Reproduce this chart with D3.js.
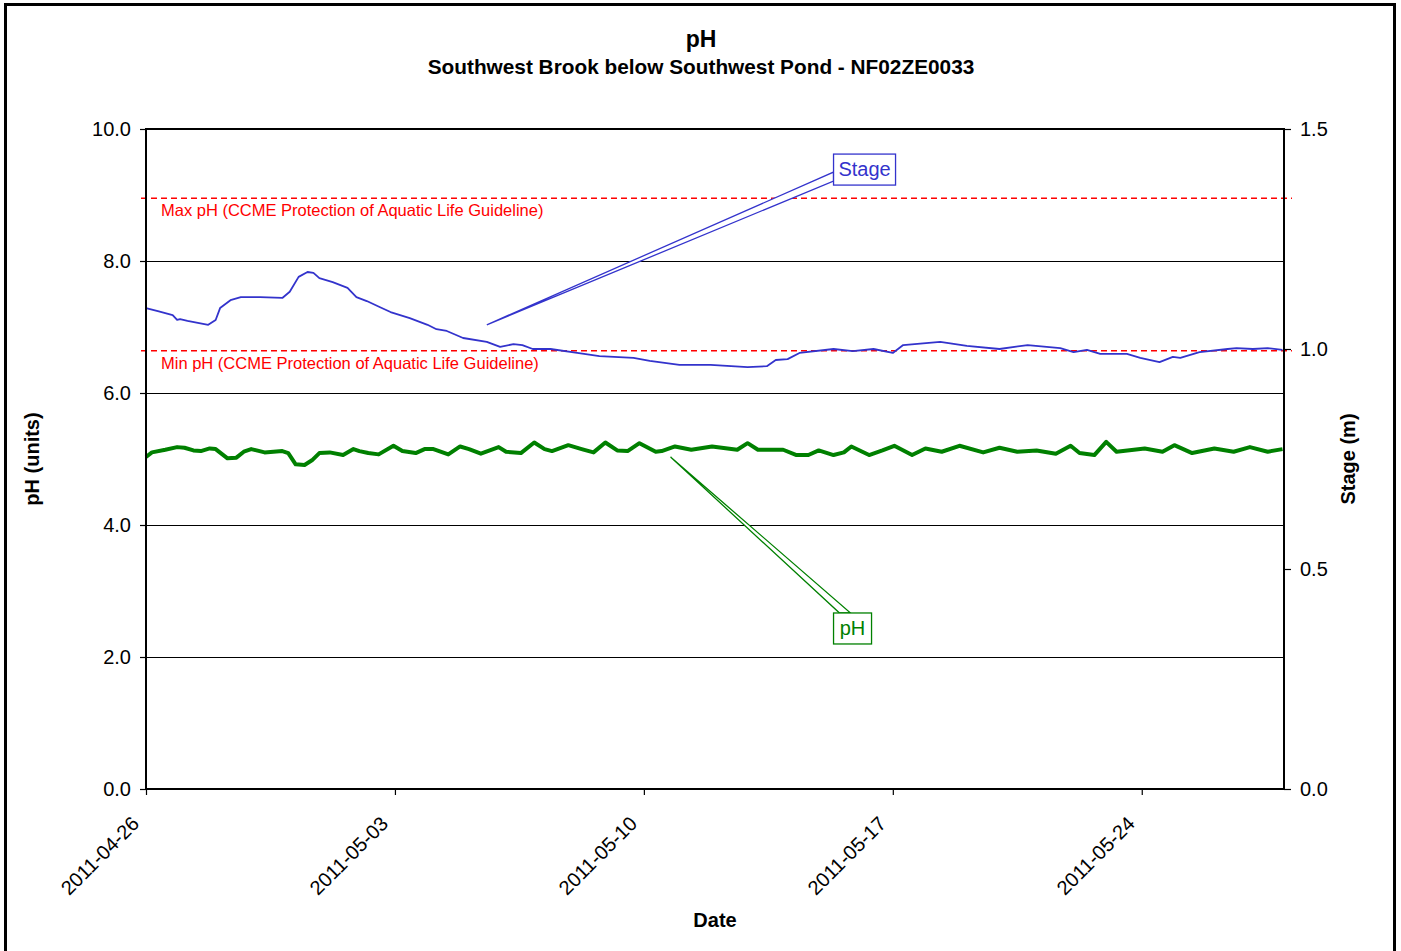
<!DOCTYPE html>
<html>
<head>
<meta charset="utf-8">
<script src="https://cdn.jsdelivr.net/npm/d3@7"></script>
<style>
  body { margin: 0; background: #fff; }
  text { font-family: Arial, "Liberation Sans", sans-serif; }
</style>
</head>
<body>
<div id="chart"></div>
<script>
// data
const stageDates = ["2011-04-26 00:00","2011-04-26 08:00","2011-04-26 18:00","2011-04-26 21:00","2011-04-26 23:00",
  "2011-04-27 04:00","2011-04-27 18:00","2011-04-27 23:00","2011-04-28 02:00","2011-04-28 09:00","2011-04-28 16:00",
  "2011-04-29 05:00","2011-04-29 20:00","2011-04-30 01:00","2011-04-30 07:00","2011-04-30 13:00","2011-04-30 17:00",
  "2011-04-30 21:00","2011-05-01 06:00","2011-05-01 16:00","2011-05-01 22:00","2011-05-02 05:00","2011-05-02 14:00",
  "2011-05-02 21:00","2011-05-03 10:00","2011-05-03 22:00","2011-05-04 04:00","2011-05-04 11:00","2011-05-04 22:00",
  "2011-05-05 14:00","2011-05-05 23:00","2011-05-06 08:00","2011-05-06 14:00","2011-05-06 21:00","2011-05-07 09:00",
  "2011-05-08 03:00","2011-05-08 18:00","2011-05-09 17:00","2011-05-10 04:00","2011-05-11 00:00","2011-05-11 21:00",
  "2011-05-12 22:00","2011-05-13 11:00","2011-05-13 17:00","2011-05-14 01:00","2011-05-14 09:00","2011-05-15 08:00",
  "2011-05-15 21:00","2011-05-16 11:00","2011-05-17 00:00","2011-05-17 07:00","2011-05-18 08:00","2011-05-19 02:00",
  "2011-05-20 00:00","2011-05-20 19:00","2011-05-21 17:00","2011-05-22 02:00","2011-05-22 11:00","2011-05-22 20:00",
  "2011-05-23 14:00","2011-05-23 23:00","2011-05-24 12:00","2011-05-24 21:00","2011-05-25 02:00","2011-05-25 15:00",
  "2011-05-26 10:00","2011-05-26 16:00","2011-05-27 03:00","2011-05-27 13:00","2011-05-27 23:00"];
const stageValues = [1.093,1.086,1.077,1.066,1.068,
  1.064,1.055,1.066,1.093,1.111,1.118,
  1.118,1.116,1.130,1.164,1.175,1.173,
  1.161,1.152,1.139,1.118,1.109,1.095,
  1.084,1.070,1.055,1.045,1.041,1.025,
  1.016,1.005,1.011,1.009,1.000,1.000,
  0.991,0.984,0.980,0.973,0.964,0.964,
  0.959,0.961,0.975,0.977,0.991,1.000,
  0.995,1.000,0.991,1.009,1.016,1.007,
  1.000,1.009,1.002,0.993,0.998,0.989,
  0.989,0.980,0.970,0.982,0.980,0.993,
  1.000,1.002,1.000,1.002,0.998];

const phDates = ["2011-04-26 00:00","2011-04-26 04:00","2011-04-26 13:00","2011-04-26 21:00","2011-04-27 02:00",
  "2011-04-27 08:00","2011-04-27 13:00","2011-04-27 19:00","2011-04-27 23:00","2011-04-28 07:00","2011-04-28 13:00",
  "2011-04-28 18:00","2011-04-28 23:00","2011-04-29 08:00","2011-04-29 20:00","2011-04-30 00:00","2011-04-30 05:00",
  "2011-04-30 11:00","2011-04-30 16:00","2011-04-30 21:00","2011-05-01 04:00","2011-05-01 13:00","2011-05-01 20:00",
  "2011-05-02 00:00","2011-05-02 06:00","2011-05-02 13:00","2011-05-02 23:00","2011-05-03 05:00","2011-05-03 14:00",
  "2011-05-03 20:00","2011-05-04 02:00","2011-05-04 12:00","2011-05-04 20:00","2011-05-05 02:00","2011-05-05 10:00",
  "2011-05-05 22:00","2011-05-06 03:00","2011-05-06 13:00","2011-05-06 22:00","2011-05-07 05:00","2011-05-07 10:00",
  "2011-05-07 21:00","2011-05-08 06:00","2011-05-08 14:00","2011-05-08 22:00","2011-05-09 06:00","2011-05-09 13:00",
  "2011-05-09 21:00","2011-05-10 08:00","2011-05-10 12:00","2011-05-10 21:00","2011-05-11 08:00","2011-05-11 22:00",
  "2011-05-12 15:00","2011-05-12 22:00","2011-05-13 05:00","2011-05-13 22:00","2011-05-14 07:00","2011-05-14 15:00",
  "2011-05-14 22:00","2011-05-15 08:00","2011-05-15 15:00","2011-05-15 20:00","2011-05-16 08:00","2011-05-16 17:00",
  "2011-05-17 01:00","2011-05-17 13:00","2011-05-17 22:00","2011-05-18 09:00","2011-05-18 21:00","2011-05-19 13:00",
  "2011-05-20 00:00","2011-05-20 12:00","2011-05-21 01:00","2011-05-21 14:00","2011-05-22 00:00","2011-05-22 06:00",
  "2011-05-22 16:00","2011-05-23 00:00","2011-05-23 07:00","2011-05-24 02:00","2011-05-24 14:00","2011-05-24 22:00",
  "2011-05-25 10:00","2011-05-26 01:00","2011-05-26 14:00","2011-05-27 01:00","2011-05-27 13:00","2011-05-27 23:00"];
const phValues = [5.03,5.10,5.14,5.18,5.17,
  5.13,5.12,5.16,5.15,5.01,5.02,
  5.11,5.15,5.10,5.12,5.09,4.92,
  4.91,4.98,5.09,5.10,5.06,5.15,
  5.12,5.09,5.07,5.20,5.12,5.09,
  5.15,5.15,5.07,5.19,5.15,5.08,
  5.18,5.11,5.09,5.25,5.15,5.12,
  5.21,5.15,5.10,5.25,5.13,5.12,
  5.24,5.11,5.12,5.19,5.14,5.19,
  5.14,5.24,5.14,5.14,5.06,5.06,
  5.13,5.06,5.10,5.19,5.06,5.13,
  5.20,5.06,5.16,5.11,5.20,5.10,
  5.17,5.11,5.13,5.08,5.20,5.09,
  5.06,5.26,5.11,5.16,5.11,5.21,
  5.09,5.16,5.11,5.18,5.11,5.15];

const xTickLabels = ["2011-04-26","2011-05-03","2011-05-10","2011-05-17","2011-05-24"];
const xDomain = ["2011-04-26 00:00","2011-05-28 00:00"];
const phTicks = [0, 2, 4, 6, 8, 10];
const stageTicks = [0, 0.5, 1.0, 1.5];
const guideNames = ["Max pH (CCME Protection of Aquatic Life Guideline)", "Min pH (CCME Protection of Aquatic Life Guideline)"];
const guideValues = [8.95, 6.64];

const width = 1401, height = 951;
const margin = {top: 129, right: 117, bottom: 162, left: 146};
const parse = d3.timeParse("%Y-%m-%d %H:%M");
const parseDay = d3.timeParse("%Y-%m-%d");

const svg = d3.select("#chart").append("svg")
  .attr("width", width)
  .attr("height", height);

svg.append("rect")
  .attr("x", 5.5).attr("y", 4.5)
  .attr("width", 1389).attr("height", 960)
  .attr("fill", "#fff").attr("stroke", "#000").attr("stroke-width", 3);

let x = d3.scaleTime()
  .domain(xDomain.map(parse))
  .range([margin.left, width - margin.right]);
let yL = d3.scaleLinear().domain([0, 10]).range([height - margin.bottom, margin.top]);
let yR = d3.scaleLinear().domain([0, 1.5]).range([height - margin.bottom, margin.top]);

const x0 = x.range()[0], x1 = x.range()[1];
const yTop = yL.range()[1], yBot = yL.range()[0];

// gridlines
svg.append("g").selectAll("line")
  .data(phTicks.filter(d => d > 0 && d < 10))
  .enter().append("line")
  .attr("x1", x0).attr("x2", x1)
  .attr("y1", d => yL(d) + 0.5).attr("y2", d => yL(d) + 0.5)
  .attr("stroke", "#000").attr("stroke-width", 1);

// guideline dashes
svg.append("g").selectAll("line")
  .data(guideValues)
  .enter().append("line")
  .attr("x1", x0 - 5).attr("x2", x1 + 8)
  .attr("y1", d => yL(d)).attr("y2", d => yL(d))
  .attr("stroke", "#ff0000").attr("stroke-width", 1.5)
  .attr("stroke-dasharray", "6,4");

svg.append("g").selectAll("text")
  .data(guideNames)
  .enter().append("text")
  .attr("x", x0 + 15)
  .attr("y", (d, i) => yL(guideValues[i]) + 18)
  .attr("fill", "#ff0000")
  .attr("font-size", "16.5px")
  .text(d => d);

// series
const stageData = stageDates.map((d, i) => ({date: parse(d), value: stageValues[i]}));
const phData = phDates.map((d, i) => ({date: parse(d), value: phValues[i]}));

svg.append("path")
  .datum(phData)
  .attr("fill", "none")
  .attr("stroke", "#008000")
  .attr("stroke-width", 4)
  .attr("stroke-linejoin", "round")
  .attr("d", d3.line().x(d => x(d.date)).y(d => yL(d.value)));

svg.append("path")
  .datum(stageData)
  .attr("fill", "none")
  .attr("stroke", "#3333cc")
  .attr("stroke-width", 1.8)
  .attr("stroke-linejoin", "round")
  .attr("d", d3.line().x(d => x(d.date)).y(d => yR(d.value)));

// plot frame
svg.append("rect")
  .attr("x", x0).attr("y", yTop)
  .attr("width", x1 - x0).attr("height", yBot - yTop)
  .attr("fill", "none").attr("stroke", "#000").attr("stroke-width", 2);

// axes
let axL = svg.append("g")
  .attr("transform", `translate(${x0},0)`)
  .call(d3.axisLeft(yL).tickValues(phTicks).tickFormat(d3.format(".1f")).tickSize(6).tickPadding(9));
let axR = svg.append("g")
  .attr("transform", `translate(${x1},0)`)
  .call(d3.axisRight(yR).tickValues(stageTicks).tickFormat(d3.format(".1f")).tickSize(7).tickPadding(9));
let axB = svg.append("g")
  .attr("transform", `translate(0,${yBot})`)
  .call(d3.axisBottom(x).tickValues(xTickLabels.map(parseDay)).tickFormat(d3.timeFormat("%Y-%m-%d")).tickSize(6));

[axL, axR, axB].forEach(a => {
  a.select(".domain").remove();
  a.selectAll("line").attr("stroke", "#000").attr("stroke-width", 1.2);
  a.selectAll("text").attr("font-size", "20px").attr("fill", "#000")
    .style("font-family", "Arial, 'Liberation Sans', sans-serif");
});

axB.selectAll("text")
  .attr("text-anchor", "end")
  .attr("dy", "0.35em")
  .attr("transform", "translate(-11,31) rotate(-45)")
  .attr("x", 0).attr("y", 0);

// titles
svg.append("text")
  .attr("x", 701).attr("y", 47)
  .attr("text-anchor", "middle")
  .attr("font-weight", "bold").attr("font-size", "23px")
  .text("pH");
svg.append("text")
  .attr("x", 701).attr("y", 74)
  .attr("text-anchor", "middle")
  .attr("font-weight", "bold").attr("font-size", "20.8px")
  .text("Southwest Brook below Southwest Pond - NF02ZE0033");

svg.append("text")
  .attr("x", (x0 + x1) / 2).attr("y", 927)
  .attr("text-anchor", "middle")
  .attr("font-weight", "bold").attr("font-size", "20px")
  .text("Date");

svg.append("text")
  .attr("transform", `translate(39,${(yTop + yBot) / 2}) rotate(-90)`)
  .attr("text-anchor", "middle")
  .attr("font-weight", "bold").attr("font-size", "20px")
  .text("pH (units)");

svg.append("text")
  .attr("transform", `translate(1355,${(yTop + yBot) / 2}) rotate(-90)`)
  .attr("text-anchor", "middle")
  .attr("font-weight", "bold").attr("font-size", "20px")
  .text("Stage (m)");

// callouts
const callouts = [
  {text: "Stage", color: "#3333cc", at: ["2011-05-05 14:00", 1.055], box: ["2011-05-15 08:00", 1.443], scale: yR, w: 62, side: "left"},
  {text: "pH", color: "#008000", at: ["2011-05-10 18:00", 5.03], box: ["2011-05-15 08:00", 2.667], scale: yL, w: 38, side: "top"}
];

callouts.forEach(c => {
  const ax = x(parse(c.at[0])), ay = c.scale(c.at[1]);
  const bx = x(parse(c.box[0])), by = c.scale(c.box[1]);
  const bh = 31;
  let pts;
  if (c.side === "left") pts = [[ax, ay], [bx, by + 18], [bx, by + 27]];
  else pts = [[ax, ay], [bx + 6, by], [bx + 17, by]];
  svg.append("polygon")
    .attr("points", pts.map(p => p.join(",")).join(" "))
    .attr("fill", "#fff").attr("stroke", c.color).attr("stroke-width", 1.3);
  svg.append("rect")
    .attr("x", bx).attr("y", by)
    .attr("width", c.w).attr("height", bh)
    .attr("fill", "#fff").attr("stroke", c.color).attr("stroke-width", 1.3);
  svg.append("text")
    .attr("x", bx + c.w / 2).attr("y", by + 22)
    .attr("text-anchor", "middle")
    .attr("fill", c.color).attr("font-size", "20px")
    .text(c.text);
});
</script>
</body>
</html>
